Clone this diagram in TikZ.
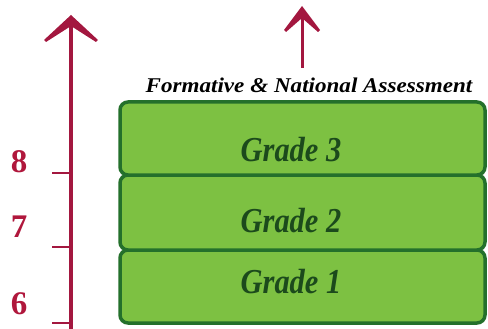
\documentclass[tikz,border=0pt]{standalone}
\usepackage{fontspec}
\setmainfont{Liberation Serif}
\definecolor{arrowred}{HTML}{A3173F}
\definecolor{digitred}{HTML}{B0173C}
\definecolor{boxfill}{HTML}{7DC142}
\definecolor{boxline}{HTML}{24702B}
\definecolor{gradetext}{HTML}{1C4A1C}
\begin{document}
\begin{tikzpicture}[x=1pt,y=-1pt,
  gradebox/.style={draw=boxline, line width=3.5pt, fill=boxfill, rounded corners=8pt},
  gradelabel/.style={anchor=base, text=gradetext, font=\fontsize{35}{35}\selectfont\bfseries\itshape, inner sep=0pt},
  digit/.style={text=digitred, font=\fontsize{33}{33}\selectfont\bfseries, inner sep=0pt},
  tick/.style={draw=arrowred, line width=2pt},
  shaft/.style={draw=arrowred, line width=3.5pt}]
\useasboundingbox (0,0) rectangle (488,329);
% boxes
\draw[gradebox] (120,250) rectangle (485,323);
\draw[gradebox] (120,175) rectangle (485,250);
\draw[gradebox] (120,102) rectangle (485,175);
\node[gradelabel] (g3) at (291,161) {\scalebox{0.87}[1]{Grade 3}};
\node[gradelabel] (g2) at (291,233) {\scalebox{0.87}[1]{Grade 2}};
\node[gradelabel] (g1) at (291,293) {\scalebox{0.87}[1]{Grade 1}};
% title
\node[anchor=base, inner sep=0pt, font=\fontsize{21}{21}\selectfont\bfseries\itshape] (title) at (309,93) {\scalebox{1.1}[1]{Formative \& National Assessment}};
% left axis
\coordinate (axbot) at (71,329);
\coordinate (axtop) at (71,24);
\draw[shaft] (axbot) -- (axtop);
\fill[arrowred] (71,15) -- (98,40) -- (96,42) -- (71,26) -- (46,42) -- (44,40) -- cycle;
\coordinate (t8) at (52,173); \coordinate (t8e) at (72,173);
\coordinate (t7) at (52,247); \coordinate (t7e) at (72,247);
\coordinate (t6) at (52,323); \coordinate (t6e) at (72,323);
\draw[tick] (t8) -- (t8e);
\draw[tick] (t7) -- (t7e);
\draw[tick] (t6) -- (t6e);
\node[digit] (d8) at (19,162) {8};
\node[digit] (d7) at (19,227) {7};
\node[digit] (d6) at (19,304) {6};
% top arrow
\coordinate (tabot) at (302,68);
\coordinate (tatop) at (302,14);
\draw[draw=arrowred, line width=3pt] (tabot) -- (tatop);
\fill[arrowred] (302,6) -- (320,30) -- (318,32) -- (302,18) -- (286,32) -- (284,30) -- cycle;
\end{tikzpicture}
\end{document}
